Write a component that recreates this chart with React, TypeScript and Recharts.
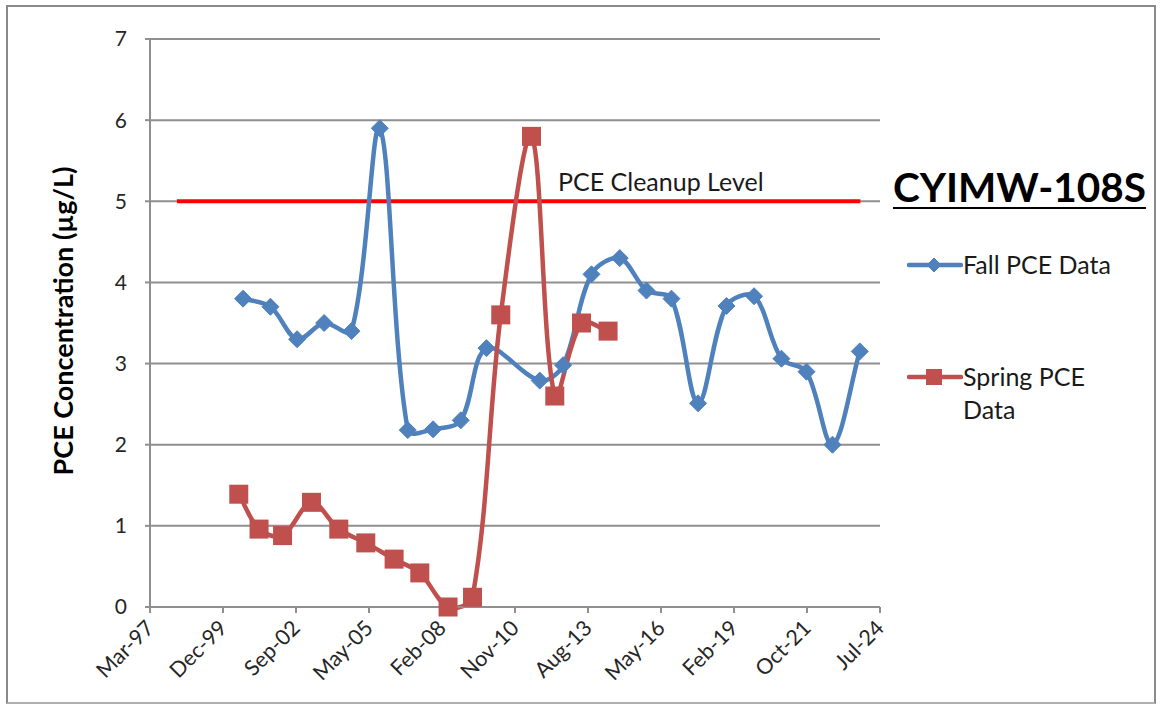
import { CartesianGrid, Line, LineChart, XAxis, YAxis } from "recharts";

const FONT = "Lato, 'Open Sans', sans-serif";
const BLUE = "#4f81bd";
const RED = "#c0504d";
const LIMIT_RED = "#ff0000";
const GRID = "#8f8f8f";

// fall sampling rounds
const FALL_DATES = [
  "2000-09-06", "2001-09-16", "2002-09-16", "2003-09-21", "2004-09-30",
  "2005-10-23", "2006-11-10", "2007-10-23", "2008-11-05", "2009-10-23",
  "2011-10-23", "2012-09-07", "2013-10-01", "2014-10-23", "2015-10-24",
  "2016-10-01", "2017-09-30", "2018-10-24", "2019-11-06", "2020-11-15",
  "2021-10-24", "2022-10-15", "2023-10-24",
];
const FALL_PCE = [
  3.8, 3.7, 3.3, 3.5, 3.4, 5.9, 2.18, 2.19, 2.3, 3.19, 2.79, 2.98, 4.1, 4.3,
  3.9, 3.8, 2.51, 3.71, 3.83, 3.06, 2.9, 2.0, 3.15,
];

// spring sampling rounds
const SPRING_DATES = [
  "2000-07-09", "2001-04-13", "2002-03-01", "2003-04-01", "2004-04-09",
  "2005-04-14", "2006-05-07", "2007-04-24", "2008-05-15", "2009-04-15",
  "2010-05-07", "2011-07-02", "2012-05-16", "2013-05-17", "2014-05-16",
];
const SPRING_PCE = [
  1.39, 0.96, 0.88, 1.29, 0.96, 0.79, 0.59, 0.42, 0.0, 0.12, 3.6, 5.8, 2.6,
  3.5, 3.4,
];

const CLEANUP_DATES = ["1998-03-15", "2023-11-01"];
const CLEANUP_LEVEL = [5, 5];

const X_TICK_DATES = [
  "1997-03-11", "1999-12-06", "2002-09-01", "2005-05-28", "2008-02-22",
  "2010-11-18", "2013-08-14", "2016-05-10", "2019-02-04", "2021-10-31",
  "2024-07-27",
];
const X_TICK_LABELS = [
  "Mar-97", "Dec-99", "Sep-02", "May-05", "Feb-08", "Nov-10", "Aug-13",
  "May-16", "Feb-19", "Oct-21", "Jul-24",
];
const Y_TICKS = [0, 1, 2, 3, 4, 5, 6, 7];

const toTime = (d: string) => Date.parse(d + "T00:00:00Z");

const fallData = FALL_DATES.map((d, i) => ({ t: toTime(d), v: FALL_PCE[i] }));
const springData = SPRING_DATES.map((d, i) => ({ t: toTime(d), v: SPRING_PCE[i] }));
const cleanupData = CLEANUP_DATES.map((d, i) => ({ t: toTime(d), v: CLEANUP_LEVEL[i] }));
const xTicks = X_TICK_DATES.map(toTime);
const tickLabel = new Map(xTicks.map((t, i) => [t, X_TICK_LABELS[i]]));

const dist = (a: number[], b: number[]) => Math.hypot(b[0] - a[0], b[1] - a[1]);

// Excel-like smoothing: bezier arms scaled by neighbouring chord lengths,
// so short segments next to long ones don't overshoot much
const excelSmooth = (context: any) => {
  let pts: number[][] = [];
  return {
    areaStart() {},
    areaEnd() {},
    lineStart() {
      pts = [];
    },
    point(x: number, y: number) {
      pts.push([+x, +y]);
    },
    lineEnd() {
      if (!pts.length) return;
      context.moveTo(pts[0][0], pts[0][1]);
      for (let i = 0; i < pts.length - 1; i++) {
        const p0 = pts[i - 1] || pts[i];
        const p1 = pts[i];
        const p2 = pts[i + 1];
        const p3 = pts[i + 2] || p2;
        const d01 = dist(p0, p1);
        const d12 = dist(p1, p2);
        const d23 = dist(p2, p3);
        const a = d01 + d12 > 0 ? d12 / (d01 + d12) / 3 : 0;
        const b = d12 + d23 > 0 ? d12 / (d12 + d23) / 3 : 0;
        context.bezierCurveTo(
          p1[0] + (p2[0] - p0[0]) * a,
          p1[1] + (p2[1] - p0[1]) * a,
          p2[0] - (p3[0] - p1[0]) * b,
          p2[1] - (p3[1] - p1[1]) * b,
          p2[0],
          p2[1],
        );
      }
    },
  };
};

function Diamond({ cx, cy, r = 8.5 }: { cx?: number; cy?: number; r?: number }) {
  if (cx == null || cy == null) return null;
  return (
    <polygon
      points={`${cx},${cy - r} ${cx + r},${cy} ${cx},${cy + r} ${cx - r},${cy}`}
      fill={BLUE}
      stroke={BLUE}
      strokeWidth={1}
    />
  );
}

function Square({ cx, cy, s = 19 }: { cx?: number; cy?: number; s?: number }) {
  if (cx == null || cy == null) return null;
  return <rect x={cx - s / 2} y={cy - s / 2} width={s} height={s} fill={RED} />;
}

function DateTick({ x, y, payload }: any) {
  const ax = x;
  const ay = y + 9;
  return (
    <text
      x={ax}
      y={ay}
      transform={`rotate(-45, ${ax}, ${ay})`}
      textAnchor="end"
      dy="0.35em"
      fontSize={21.5}
      fontFamily={FONT}
      fill="#262626"
    >
      {tickLabel.get(payload.value)}
    </text>
  );
}

function SideLegend() {
  const textStyle = { fontFamily: FONT, fontSize: 25, color: "#1a1a1a", lineHeight: "33px" };
  return (
    <div style={{ position: "absolute", left: 893, top: 162, width: 265, height: 300 }}>
      <div
        style={{
          position: "absolute",
          left: 0,
          top: 0,
          fontFamily: FONT,
          fontWeight: 700,
          fontSize: 40.5,
          color: "#000",
          textDecoration: "underline",
          textUnderlineOffset: 5,
          textDecorationThickness: 2,
          whiteSpace: "nowrap",
        }}
      >
        CYIMW-108S
      </div>
      <svg style={{ position: "absolute", left: 14, top: 91 }} width={56} height={24}>
        <line x1={2} y1={12} x2={54} y2={12} stroke={BLUE} strokeWidth={4.5} strokeLinecap="round" />
        <Diamond cx={27} cy={12} r={7} />
      </svg>
      <div style={{ ...textStyle, position: "absolute", left: 70, top: 86, whiteSpace: "nowrap" }}>
        Fall PCE Data
      </div>
      <svg style={{ position: "absolute", left: 14, top: 203 }} width={56} height={24}>
        <line x1={2} y1={12} x2={54} y2={12} stroke={RED} strokeWidth={4.5} strokeLinecap="round" />
        <Square cx={27} cy={12} s={16} />
      </svg>
      <div style={{ ...textStyle, position: "absolute", left: 70, top: 198, width: 190 }}>
        Spring PCE
        <br />
        Data
      </div>
    </div>
  );
}

export default function App() {
  return (
    <div
      style={{
        position: "absolute",
        left: 0,
        top: 0,
        width: 1160,
        height: 705,
        background: "#fff",
        overflow: "hidden",
      }}
    >
      <div
        style={{
          position: "absolute",
          left: 6,
          top: 5,
          width: 1150,
          height: 699,
          border: "2px solid #8a8a8a",
          borderBottomColor: "#b0b0b0",
          boxSizing: "border-box",
        }}
      />
      <LineChart
        width={1160}
        height={705}
        margin={{ top: 39, right: 280, bottom: 0, left: 0 }}
        style={{ position: "absolute", left: 0, top: 0 }}
      >
        <CartesianGrid horizontal vertical={false} stroke={GRID} strokeWidth={2} />
        <XAxis
          type="number"
          dataKey="t"
          domain={[xTicks[0], xTicks[xTicks.length - 1]]}
          ticks={xTicks}
          interval={0}
          height={98}
          tick={<DateTick />}
          tickSize={6}
          tickMargin={2}
          stroke={GRID}
          strokeWidth={2}
          allowDataOverflow
        />
        <YAxis
          type="number"
          domain={[0, 7]}
          ticks={Y_TICKS}
          width={150}
          tickSize={5}
          tickMargin={18}
          stroke={GRID}
          strokeWidth={2}
          tick={{ fontSize: 21, fontFamily: FONT, fill: "#262626" }}
          label={() => (
            <text
              x={62}
              y={321}
              transform="rotate(-90, 62, 321)"
              textAnchor="middle"
              dominantBaseline="central"
              fontSize={27}
              fontWeight={700}
              fontFamily={FONT}
              fill="#000"
            >
              PCE Concentration (µg/L)
            </text>
          )}
        />
        <Line
          data={cleanupData}
          dataKey="v"
          type="linear"
          stroke={LIMIT_RED}
          strokeWidth={4}
          dot={false}
          activeDot={false}
          isAnimationActive={false}
          legendType="none"
          label={(props: any) =>
            props.index === 0 ? (
              <text
                key="cleanup-label"
                x={558}
                y={181}
                dominantBaseline="central"
                fontSize={25}
                fontFamily={FONT}
                fill="#1a1a1a"
              >
                PCE Cleanup Level
              </text>
            ) : (
              <g key={`l${props.index}`} />
            )
          }
        />
        <Line
          data={fallData}
          dataKey="v"
          name="Fall PCE Data"
          type={excelSmooth as any}
          stroke={BLUE}
          strokeWidth={4.5}
          dot={(p: any) => <Diamond key={`f${p.index}`} cx={p.cx} cy={p.cy} />}
          activeDot={false}
          isAnimationActive={false}
        />
        <Line
          data={springData}
          dataKey="v"
          name="Spring PCE Data"
          type={excelSmooth as any}
          stroke={RED}
          strokeWidth={4.5}
          dot={(p: any) => <Square key={`s${p.index}`} cx={p.cx} cy={p.cy} />}
          activeDot={false}
          isAnimationActive={false}
        />
      </LineChart>
      <SideLegend />
    </div>
  );
}
